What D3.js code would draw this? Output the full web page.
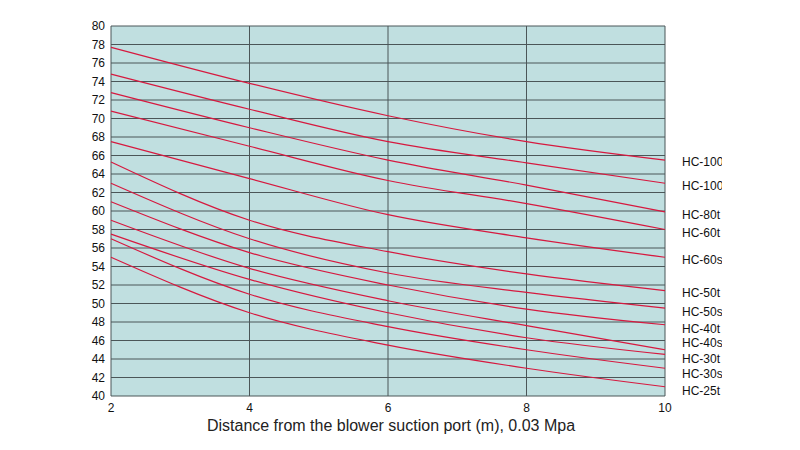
<!DOCTYPE html>
<html><head><meta charset="utf-8">
<script src="https://cdn.jsdelivr.net/npm/d3@7"></script>
<style>body{margin:0;background:#fff}</style>
</head><body>
<div id="chart"></div>
<script>
var distances = [2, 4, 6, 8, 10];
var seriesNames = ["HC-100t", "HC-100s", "HC-80t", "HC-60t", "HC-60s", "HC-50t", "HC-50s", "HC-40t", "HC-40s", "HC-30t", "HC-30s", "HC-25t"];
var seriesValues = [
  [77.7, 73.8, 70.3, 67.5, 65.5],
  [74.8, 71.0, 67.5, 65.2, 63.0],
  [72.8, 69.0, 65.5, 62.8, 59.9],
  [70.8, 67.0, 63.3, 60.8, 58.0],
  [67.5, 63.5, 59.6, 57.1, 55.0],
  [65.3, 59.0, 55.6, 53.2, 51.4],
  [63.0, 57.0, 53.3, 51.2, 49.5],
  [61.0, 55.5, 52.0, 49.4, 47.7],
  [59.0, 53.8, 50.3, 47.6, 45.0],
  [57.5, 52.6, 49.0, 46.3, 44.5],
  [57.0, 51.0, 47.5, 45.0, 43.0],
  [55.0, 49.0, 45.5, 43.0, 41.0]
];
var labelLevels = [65.3, 62.7, 59.6, 57.6, 54.7, 51.2, 49.1, 47.3, 45.7, 44.0, 42.4, 40.6];
var xTicks = [2, 4, 6, 8, 10];
var yTicks = d3.range(40, 81, 2);

var margin = {top: 26, left: 111},
    width = 554, height = 370;
var svg = d3.select("#chart").append("svg").attr("width", 800).attr("height", 450)
    .style("font-family", "Liberation Sans, Arial, sans-serif");
var g = svg.append("g").attr("transform", "translate(" + margin.left + "," + margin.top + ")");
var x = d3.scaleLinear().domain([2, 10]).range([0, width]);
var y = d3.scaleLinear().domain([40, 80]).range([height, 0]);

g.append("rect").attr("width", width).attr("height", height).attr("fill", "#c0dfe0");
g.selectAll(".hg").data(yTicks).enter().append("line")
    .attr("x1", 0).attr("x2", width).attr("y1", y).attr("y2", y)
    .attr("stroke", "#4b5658").attr("stroke-width", 1);
g.selectAll(".vg").data(xTicks).enter().append("line")
    .attr("y1", 0).attr("y2", height).attr("x1", x).attr("x2", x)
    .attr("stroke", "#4b5658").attr("stroke-width", 1);

var line = d3.line().x(function (d, i) { return x(distances[i]); })
    .y(function (d) { return y(d); }).curve(d3.curveMonotoneX);
g.selectAll(".series").data(seriesValues).enter().append("path")
    .attr("d", line).attr("fill", "none").attr("stroke", "#d6193f").attr("stroke-width", 1.2);

g.selectAll(".yt").data(yTicks).enter().append("text")
    .attr("x", -6).attr("y", y).attr("dy", "0.35em").attr("text-anchor", "end")
    .attr("font-size", 12).attr("fill", "#111").text(function (d) { return d; });
g.selectAll(".xt").data(xTicks).enter().append("text")
    .attr("x", x).attr("y", height + 16).attr("text-anchor", "middle")
    .attr("font-size", 12).attr("fill", "#111").text(function (d) { return d; });
g.append("text").attr("x", 280).attr("y", height + 35).attr("text-anchor", "middle")
    .attr("font-size", 16).attr("fill", "#222")
    .text("Distance from the blower suction port (m), 0.03 Mpa");

svg.append("clipPath").attr("id", "lblclip").append("rect")
    .attr("x", 0).attr("y", 0).attr("width", 722).attr("height", 450);
svg.append("g").attr("clip-path", "url(#lblclip)")
    .selectAll("text").data(seriesNames).enter().append("text")
    .attr("x", 682).attr("y", function (d, i) { return margin.top + y(labelLevels[i]); })
    .attr("dy", "0.35em").attr("font-size", 12).attr("fill", "#111")
    .text(function (d) { return d; });
</script>
</body></html>
